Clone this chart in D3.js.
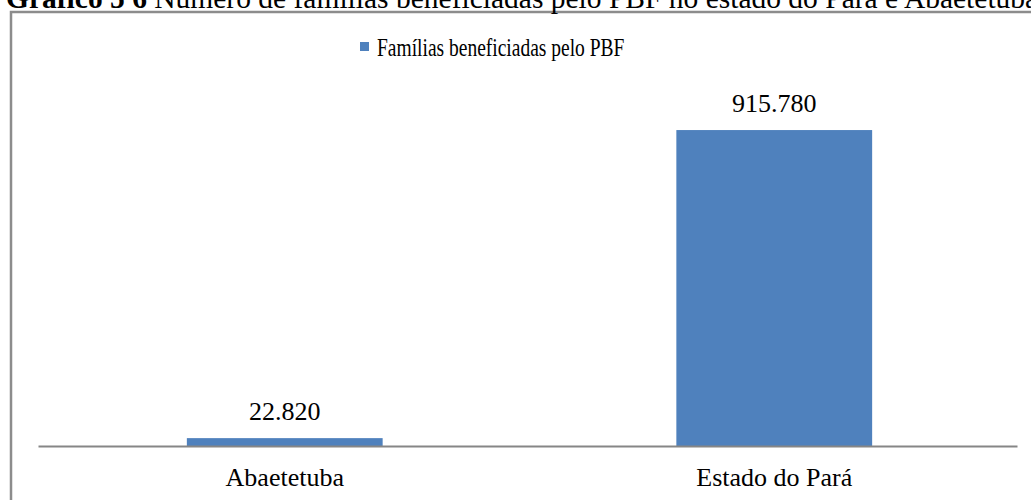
<!DOCTYPE html>
<html>
<head>
<meta charset="utf-8">
<script src="https://cdn.jsdelivr.net/npm/d3@7"></script>
<style>
  html, body { margin: 0; padding: 0; background: #fff; }
  svg { display: block; }
  text { font-family: "Liberation Serif", "Times New Roman", serif; fill: #000; }
</style>
</head>
<body>
<svg id="chart" width="1031" height="500"></svg>
<script>
const titleBold = "Gráfico 5 6";
const titleRest = " Número de famílias beneficiadas pelo PBF no estado do Pará e Abaetetuba";
const seriesName = "Famílias beneficiadas pelo PBF";
const categories = ["Abaetetuba", "Estado do Pará"];
const values = [22820, 915780];
const valueLabels = ["22.820", "915.780"];
const yDomain = [0, 1000000];

const svg = d3.select("#chart");
const W = 1031, H = 500;
const plot = { left: 38, right: 1017, top: 101, bottom: 446 };
const color = "#4F81BD";

// frame
svg.append("rect")
  .attr("x", 11).attr("y", 12)
  .attr("width", W + 20).attr("height", H + 20)
  .attr("fill", "none").attr("stroke", "#8c8c8c").attr("stroke-width", 2.5);

// title (cut off at top, as in the source image)
const title = svg.append("text")
  .attr("x", 6).attr("y", 8)
  .style("font-size", "29.5px");
title.append("tspan").style("font-weight", "bold").text(titleBold);
title.append("tspan").text(titleRest);

const x = d3.scaleBand()
  .domain(categories)
  .range([plot.left, plot.right])
  .paddingInner(0.6)
  .paddingOuter(0.3);

const y = d3.scaleLinear()
  .domain(yDomain)
  .range([plot.bottom, plot.top]);

// bars
svg.append("g").selectAll("rect")
  .data(categories)
  .join("rect")
  .attr("x", d => x(d) + 2)
  .attr("y", (d, i) => y(values[i]))
  .attr("width", x.bandwidth())
  .attr("height", (d, i) => y(0) - y(values[i]))
  .attr("fill", color);

// x axis
const xAxis = d3.axisBottom(x).tickSize(0).tickPadding(22);
const gx = svg.append("g")
  .attr("transform", `translate(0,${plot.bottom})`)
  .call(xAxis);
gx.select(".domain").attr("stroke", "#868686").attr("stroke-width", 2);
gx.selectAll(".tick text")
  .attr("font-family", null)
  .style("font-size", "26px")
  .attr("dy", "0.71em")
  .attr("fill", "#000");
gx.selectAll(".tick").attr("transform", d => `translate(${x(d) + x.bandwidth() / 2 + 2},0)`);

// value labels
svg.append("g").selectAll("text")
  .data(categories)
  .join("text")
  .attr("x", d => x(d) + x.bandwidth() / 2 + 2)
  .attr("y", (d, i) => y(values[i]) - 18)
  .attr("text-anchor", "middle")
  .style("font-size", "26px")
  .text((d, i) => valueLabels[i]);

// legend
const lg = svg.append("g").attr("transform", "translate(360,42)");
lg.append("rect").attr("width", 9).attr("height", 9).attr("fill", color);
lg.append("text")
  .attr("transform", "translate(17,14) scale(0.75,1)")
  .style("font-size", "26px")
  .text(seriesName);
</script>
</body>
</html>
